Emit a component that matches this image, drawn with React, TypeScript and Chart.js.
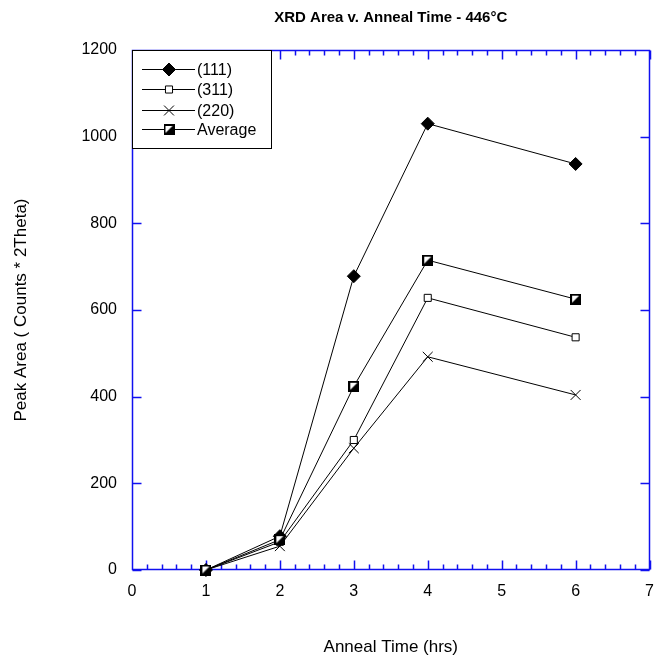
import React, { useEffect, useRef } from "react";
import { Chart, registerables } from "chart.js";
import { drawPoint } from "chart.js/helpers";

Chart.register(...registerables);

// ---- data ----
const hours = [1, 2, 3, 4, 6];
const peak111 = [0, 78, 678, 1030, 937];
const peak311 = [0, 65, 300, 628, 537];
const peak220 = [0, 55, 281, 492, 404];
const peakAvg = [0, 70, 424, 715, 625];
const seriesNames = ["(111)", "(311)", "(220)", "Average"];
const xRange = [0, 7];
const yRange = [0, 1200];
const xStep = 1;
const yStep = 200;
const titleText = "XRD Area v. Anneal Time - 446\u00b0C";
const xTitle = "Anneal Time (hrs)";
const yTitle = "Peak Area ( Counts * 2Theta)";

const BLUE = "#1010f0";
const FONT = "'Liberation Sans', Arial, sans-serif";

function makeAvgMarker(): HTMLCanvasElement {
  const s = 11;
  const c = document.createElement("canvas");
  c.width = s;
  c.height = s;
  const g = c.getContext("2d")!;
  g.fillStyle = "#fff";
  g.fillRect(0, 0, s, s);
  g.fillStyle = "#000";
  g.beginPath();
  g.moveTo(s, 0);
  g.lineTo(s, s);
  g.lineTo(0, s);
  g.closePath();
  g.fill();
  g.strokeStyle = "#000";
  g.lineWidth = 2;
  g.strokeRect(1, 1, s - 2, s - 2);
  return c;
}

export default function App() {
  const ref = useRef<HTMLCanvasElement | null>(null);

  useEffect(() => {
    document.body.style.margin = "0";
    const avgMarker = makeAvgMarker();

    const markers: any[] = [
      { pointStyle: "rectRot", radius: 6.5, borderWidth: 1, fill: "#000" },
      { pointStyle: "rect", radius: 5, borderWidth: 1, fill: "#fff" },
      { pointStyle: "crossRot", radius: 7, borderWidth: 1, fill: "#000" },
      { pointStyle: avgMarker, radius: 6, borderWidth: 1, fill: "#fff" },
    ];
    const values = [peak111, peak311, peak220, peakAvg];

    const framePlugin = {
      id: "frame",
      beforeDatasetsDraw(chart: any) {
        const { ctx, chartArea: a, scales } = chart;
        const x = scales.x;
        const y = scales.y;
        const L = Math.round(a.left) + 0.5;
        const R = Math.round(a.right) - 0.5;
        const T = Math.round(a.top) + 0.5;
        const B = Math.round(a.bottom) - 0.5;
        ctx.save();
        ctx.strokeStyle = BLUE;
        ctx.lineWidth = 1.5;
        ctx.beginPath();
        ctx.moveTo(L, T);
        ctx.lineTo(R, T);
        ctx.lineTo(R, B);
        ctx.lineTo(L, B);
        ctx.closePath();
        // x ticks (major + 4 minor)
        const n = (xRange[1] - xRange[0]) * 5;
        for (let i = 0; i <= n; i++) {
          const v = xRange[0] + i / 5;
          const px = Math.round(x.getPixelForValue(v)) + 0.5;
          const len = i % 5 === 0 ? 9 : 5;
          ctx.moveTo(px, B);
          ctx.lineTo(px, B - len);
          ctx.moveTo(px, T);
          ctx.lineTo(px, T + len);
        }
        for (const t of y.ticks) {
          const py = Math.round(y.getPixelForValue(t.value)) + 0.5;
          ctx.moveTo(L, py);
          ctx.lineTo(L + 9, py);
          ctx.moveTo(R, py);
          ctx.lineTo(R - 9, py);
        }
        ctx.stroke();
        // title
        ctx.fillStyle = "#000";
        ctx.font = `bold 15px ${FONT}`;
        ctx.textAlign = "center";
        ctx.textBaseline = "middle";
        ctx.fillText(titleText, (a.left + a.right) / 2, a.top - 32);
        ctx.restore();
      },
      afterDraw(chart: any) {
        const { ctx, chartArea: a } = chart;
        const left = Math.round(a.left) + 0.5;
        const top = Math.round(a.top) + 0.5;
        ctx.save();
        ctx.fillStyle = "#fff";
        ctx.strokeStyle = "#000";
        ctx.lineWidth = 1;
        ctx.fillRect(left, top, 139, 98);
        ctx.strokeRect(left, top, 139, 98);
        const rows = [19, 39, 60, 79];
        ctx.font = `16px ${FONT}`;
        ctx.textBaseline = "middle";
        ctx.textAlign = "left";
        seriesNames.forEach((name, i) => {
          const yy = Math.round(a.top + rows[i]) + 0.5;
          ctx.strokeStyle = "#000";
          ctx.lineWidth = 1;
          ctx.beginPath();
          ctx.moveTo(a.left + 10, yy);
          ctx.lineTo(a.left + 63, yy);
          ctx.stroke();
          const m = markers[i];
          ctx.fillStyle = m.fill;
          ctx.strokeStyle = "#000";
          ctx.lineWidth = m.borderWidth;
          drawPoint(ctx, { pointStyle: m.pointStyle, radius: m.radius, rotation: 0, borderWidth: m.borderWidth } as any, a.left + 37, yy);
          ctx.fillStyle = "#000";
          ctx.fillText(name, a.left + 65, yy + 1);
        });
        ctx.restore();
      },
    };

    const datasets = seriesNames.map((name, i) => ({
      label: name,
      data: hours.map((h, j) => ({ x: h, y: values[i][j] })),
      showLine: true,
      borderColor: "#000",
      borderWidth: 1,
      backgroundColor: markers[i].fill,
      pointBackgroundColor: markers[i].fill,
      pointBorderColor: "#000",
      pointBorderWidth: 1,
      pointStyle: markers[i].pointStyle,
      pointRadius: markers[i].radius,
      clip: false as any,
      order: 3 - i,
    }));

    const chart = new Chart(ref.current!, {
      type: "scatter",
      data: { datasets },
      options: {
        responsive: false,
        animation: false,
        layout: { padding: { left: 0, top: 50, right: 14, bottom: 0 } },
        plugins: {
          legend: { display: false },
          title: { display: false },
          tooltip: { enabled: false },
        },
        scales: {
          x: {
            type: "linear",
            min: xRange[0],
            max: xRange[1],
            ticks: {
              stepSize: xStep,
              color: "#000",
              font: { family: FONT, size: 16 },
              padding: 12,
              maxRotation: 0,
              callback: (v: any) => String(v),
            },
            grid: { display: false, drawTicks: false },
            border: { display: false },
            title: { display: true, text: xTitle, color: "#000", font: { family: FONT, size: 17 }, padding: { top: 0, bottom: 2 } },
            afterFit: (s: any) => {
              s.height = 90;
            },
          },
          y: {
            type: "linear",
            min: yRange[0],
            max: yRange[1],
            ticks: {
              stepSize: yStep,
              color: "#000",
              font: { family: FONT, size: 16 },
              padding: 15,
              callback: (v: any) => String(v),
            },
            grid: { display: false, drawTicks: false },
            border: { display: false },
            title: { display: true, text: yTitle, color: "#000", font: { family: FONT, size: 17 }, padding: { top: 11, bottom: 0 } },
            afterFit: (s: any) => {
              s.width = 132;
            },
          },
        },
      },
      plugins: [framePlugin],
    });
    return () => chart.destroy();
  }, []);

  return <canvas ref={ref} width={666} height={660} style={{ display: "block" }} />;
}
